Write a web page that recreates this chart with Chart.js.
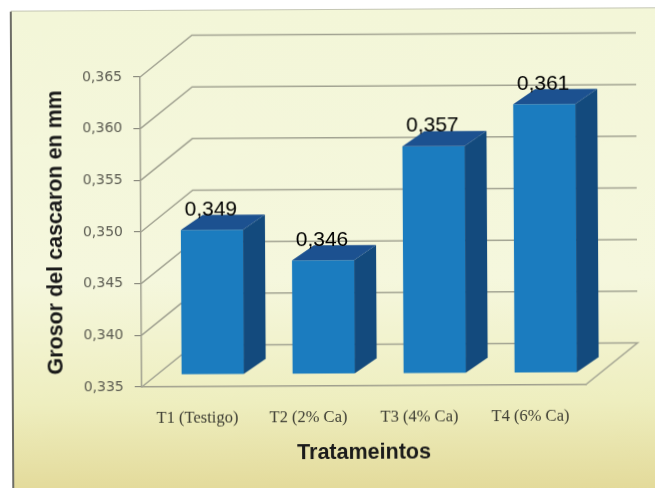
<!DOCTYPE html>
<html>
<head>
<meta charset="utf-8">
<title>Grosor del cascaron</title>
<script src="https://cdn.jsdelivr.net/npm/chart.js@4"></script>
<style>
  html, body { margin: 0; background: #fff; overflow: hidden; width: 655px; height: 488px; }
  /* canvas is a bit bigger than the page so the slight tilt leaves no gaps */
  #grosor { position: absolute; left: -12px; top: -12px; transform: rotate(-0.3deg); }
</style>
</head>
<body>
<canvas id="grosor" width="679" height="512"></canvas>
<script>
const categorias = ['T1 (Testigo)', 'T2 (2% Ca)', 'T3 (4% Ca)', 'T4 (6% Ca)'];
const grosor = [0.349, 0.346, 0.357, 0.361];
const ejeMin = 0.335;
const ejeMax = 0.365;
const ejePaso = 0.005;

function coma(v) {
  return v.toFixed(3).replace('.', ',');
}

// fondo amarillo del panel
const fondo = {
  id: 'fondo',
  beforeDraw(chart) {
    const ctx = chart.ctx;
    const g = ctx.createLinearGradient(0, 22, 0, 512);
    g.addColorStop(0, '#f3f6d8');
    g.addColorStop(0.55, '#f5f7dd');
    g.addColorStop(0.8, '#eeeebf');
    g.addColorStop(1, '#e2d896');
    ctx.save();
    ctx.fillStyle = g;
    ctx.fillRect(24, 22, 655, 490);
    ctx.fillStyle = '#6d6d66';
    ctx.fillRect(23, 22, 2, 490);
    ctx.fillStyle = '#c4c6b4';
    ctx.fillRect(24, 21, 655, 1);
    ctx.restore();
  }
};

// pared del fondo y suelo en perspectiva
const pared = {
  id: 'pared',
  beforeDatasetsDraw(chart) {
    const ctx = chart.ctx;
    const y = chart.scales.y;
    const a = chart.chartArea;
    const dx = 52, dy = -41.5;
    ctx.save();
    ctx.strokeStyle = '#a2a392';
    ctx.lineWidth = 1.5;
    y.ticks.forEach(t => {
      const py = y.getPixelForValue(t.value);
      ctx.beginPath();
      ctx.moveTo(a.left, py);
      ctx.lineTo(a.left + dx, py + dy);
      ctx.lineTo(a.right + dx, py + dy);
      if (t.value === ejeMin) ctx.lineTo(a.right, py);
      ctx.stroke();
    });
    ctx.restore();
  }
};

// caras lateral y superior de cada barra, mas la etiqueta de valor
const barras3d = {
  id: 'barras3d',
  beforeDatasetDraw(chart) {
    chart.ctx.save();
    chart.ctx.translate(15.5, -12);
  },
  afterDatasetDraw(chart, args) {
    const ctx = chart.ctx;
    const dx = 22, dy = -15;
    args.meta.data.forEach((bar, i) => {
      const l = bar.x - bar.width / 2;
      const r = bar.x + bar.width / 2;
      ctx.fillStyle = '#134a7d';
      ctx.beginPath();
      ctx.moveTo(r, bar.y);
      ctx.lineTo(r + dx, bar.y + dy);
      ctx.lineTo(r + dx, bar.base + dy);
      ctx.lineTo(r, bar.base);
      ctx.closePath();
      ctx.fill();
      ctx.fillStyle = '#1c5190';
      ctx.beginPath();
      ctx.moveTo(l, bar.y);
      ctx.lineTo(l + dx, bar.y + dy);
      ctx.lineTo(r + dx, bar.y + dy);
      ctx.lineTo(r, bar.y);
      ctx.closePath();
      ctx.fill();
      ctx.fillStyle = '#000';
      ctx.font = '21px "Liberation Sans"';
      ctx.textAlign = 'center';
      ctx.textBaseline = 'middle';
      ctx.fillText(coma(grosor[i]), bar.x - 1, bar.y - 20);
    });
    ctx.restore();
  }
};

new Chart(document.getElementById('grosor').getContext('2d'), {
  type: 'bar',
  data: {
    labels: categorias,
    datasets: [{
      data: grosor,
      base: ejeMin,
      backgroundColor: '#1b7cbf',
      borderWidth: 0,
      barPercentage: 0.56,
      categoryPercentage: 1,
      clip: false
    }]
  },
  plugins: [fondo, pared, barras3d],
  options: {
    responsive: false,
    animation: false,
    layout: { padding: { left: 0, right: 82, top: 88, bottom: 0 } },
    plugins: { legend: { display: false }, tooltip: { enabled: false } },
    scales: {
      x: {
        afterFit(s) { s.height = 114; },
        grid: { display: false },
        border: { color: '#a09f8e', width: 1.5 },
        ticks: { color: '#3c3c32', padding: 14, maxRotation: 0, font: { family: '"Liberation Serif"', size: 16.5 } },
        title: {
          display: true,
          text: 'Tratameintos',
          color: '#1a1a1a',
          padding: { top: 0, bottom: 34 },
          font: { family: '"Liberation Sans"', size: 21.5, weight: 'bold' }
        }
      },
      y: {
        min: ejeMin,
        max: ejeMax,
        afterFit(s) { s.width = 153; },
        grid: { drawOnChartArea: false, color: '#8d8d80', tickLength: 7, lineWidth: 1.2 },
        border: { color: '#9b9b8c', width: 1.4 },
        ticks: {
          stepSize: ejePaso,
          color: '#5c5c52',
          padding: 11,
          font: { family: '"DejaVu Sans"', size: 14 },
          callback: v => coma(v)
        },
        title: {
          display: true,
          text: 'Grosor del cascaron en mm',
          color: '#1a1a1a',
          padding: { top: 55.5, bottom: 0 },
          font: { family: '"Liberation Sans"', size: 21.5, weight: 'bold' }
        }
      }
    }
  }
});
</script>
</body>
</html>
